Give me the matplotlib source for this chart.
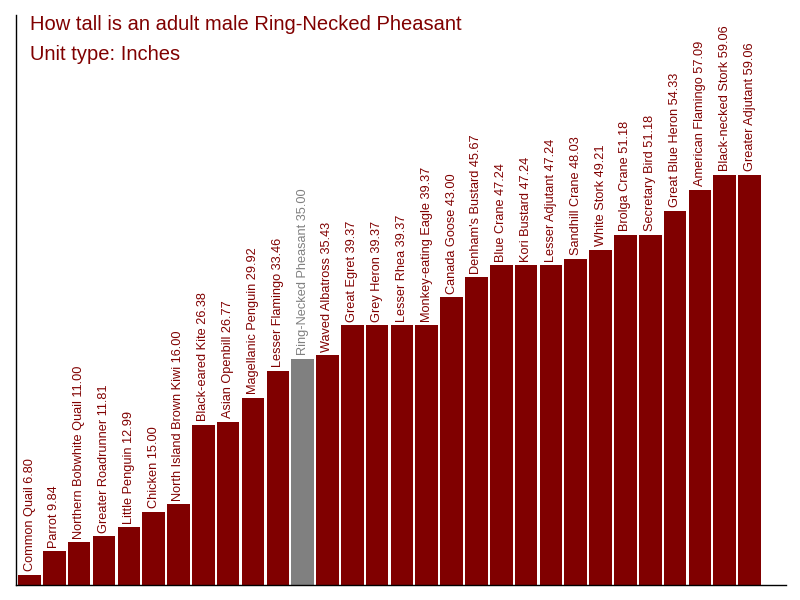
import matplotlib
matplotlib.use("Agg")
import matplotlib.pyplot as plt

plt.rcParams['font.family'] = ['Liberation Sans', 'DejaVu Sans']

birds = ["Common Quail", "Parrot", "Northern Bobwhite Quail", "Greater Roadrunner",
         "Little Penguin", "Chicken", "North Island Brown Kiwi", "Black-eared Kite",
         "Asian Openbill", "Magellanic Penguin", "Lesser Flamingo", "Ring-Necked Pheasant",
         "Waved Albatross", "Great Egret", "Grey Heron", "Lesser Rhea",
         "Monkey-eating Eagle", "Canada Goose", "Denham's Bustard", "Blue Crane",
         "Kori Bustard", "Lesser Adjutant", "Sandhill Crane", "White Stork",
         "Brolga Crane", "Secretary Bird", "Great Blue Heron", "American Flamingo",
         "Black-necked Stork", "Greater Adjutant"]
heights = [6.80, 9.84, 11.00, 11.81, 12.99, 15.00, 16.00, 26.38, 26.77, 29.92, 33.46,
           35.00, 35.43, 39.37, 39.37, 39.37, 39.37, 43.00, 45.67, 47.24, 47.24, 47.24,
           48.03, 49.21, 51.18, 51.18, 54.33, 57.09, 59.06, 59.06]
highlight = "Ring-Necked Pheasant"

red = "#800000"
grey = "#808080"

fig = plt.figure(figsize=(8, 6), dpi=100)
ax = fig.add_axes([0.02, 0.025, 0.962, 0.95])

colors = [grey if b == highlight else red for b in birds]
x = list(range(len(birds)))
ax.bar(x, heights, width=0.91, color=colors, bottom=0)

for i, (b, h) in enumerate(zip(birds, heights)):
    ax.annotate(f"{b} {h:.2f}", (i, h), xytext=(0, 2.5), textcoords="offset points",
                rotation=90, ha="center", va="bottom", fontsize=9.2,
                color=grey if b == highlight else red)

ax.set_xlim(-0.544, 30.45)
ax.set_ylim(5.44, 79.9)
ax.set_xticks([])
ax.set_yticks([])
for s in ["top", "right"]:
    ax.spines[s].set_visible(False)
for s in ["left", "bottom"]:
    ax.spines[s].set_linewidth(1.0)
    ax.spines[s].set_color("black")

fig.text(30 / 800, 1 - 30 / 600, "How tall is an adult male Ring-Necked Pheasant",
         fontsize=14.5, color=red, ha="left", va="baseline")
fig.text(30 / 800, 1 - 60 / 600, "Unit type: Inches",
         fontsize=14.5, color=red, ha="left", va="baseline")

fig.savefig("out.png", dpi=100)
